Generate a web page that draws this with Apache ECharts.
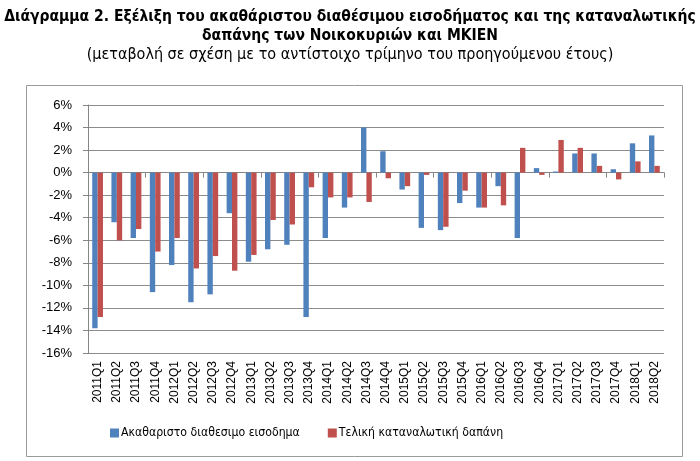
<!DOCTYPE html>
<html>
<head>
<meta charset="utf-8">
<script src="https://cdn.jsdelivr.net/npm/echarts@6/dist/echarts.min.js"></script>
<style>html,body{margin:0;padding:0;background:#fff}#c{width:700px;height:461px}</style>
</head>
<body>
<div id="c"></div>
<script>
const categories = ["2011Q1","2011Q2","2011Q3","2011Q4","2012Q1","2012Q2","2012Q3","2012Q4","2013Q1","2013Q2","2013Q3","2013Q4","2014Q1","2014Q2","2014Q3","2014Q4","2015Q1","2015Q2","2015Q3","2015Q4","2016Q1","2016Q2","2016Q3","2016Q4","2017Q1","2017Q2","2017Q3","2017Q4","2018Q1","2018Q2"];
const incomeValues = [-13.8,-4.4,-5.8,-10.6,-8.2,-11.5,-10.8,-3.6,-7.9,-6.8,-6.4,-12.8,-5.8,-3.1,4.0,1.9,-1.5,-4.9,-5.1,-2.7,-3.1,-1.2,-5.8,0.4,0.1,1.7,1.7,0.3,2.6,3.3];
const consumptionValues = [-12.8,-6.0,-5.0,-7.0,-5.8,-8.5,-7.4,-8.7,-7.3,-4.2,-4.6,-1.3,-2.2,-2.2,-2.6,-0.5,-1.2,-0.2,-4.8,-1.6,-3.1,-2.9,2.2,-0.2,2.9,2.2,0.6,-0.6,1.0,0.6];
const seriesNames = ["Ακαθαριστο διαθεσιμο εισοδημα","Τελική καταναλωτική δαπάνη"];
const titleLines = ["Διάγραμμα 2. Εξέλιξη του ακαθάριστου διαθέσιμου εισοδήματος και της καταναλωτικής","δαπάνης των Νοικοκυριών και ΜΚΙΕΝ"];
const subtitleText = "(μεταβολή σε σχέση με το αντίστοιχο τρίμηνο του προηγούμενου έτους)";

const FONT = "'Liberation Sans Narrow','DejaVu Sans Condensed','Noto Sans',sans-serif";
const AXFONT = "'Liberation Sans',Arial,sans-serif";
const chart = echarts.init(document.getElementById('c'), null, {renderer:'canvas'});
chart.setOption({
  animation:false,
  backgroundColor:'#fff',
  title:[
    {text:titleLines.join('\n'), left:'center', top:2, textStyle:{fontFamily:FONT, fontSize:15.5, fontWeight:'bold', color:'#000', lineHeight:19}},
    {text:subtitleText, left:'center', top:42, textStyle:{fontFamily:FONT, fontSize:16, fontWeight:'normal', color:'#000'}}
  ],
  graphic:[{type:'rect', shape:{x:26.5,y:85.5,width:656,height:371}, style:{fill:'none', stroke:'#9a9a9a', lineWidth:1}, z:-1}],
  legend:{top:422, left:105, itemWidth:9, itemHeight:9, itemGap:28, icon:'rect',
    textStyle:{fontFamily:FONT, fontSize:12.2, color:'#000', padding:[0,0,0,-3]}, data:seriesNames},
  grid:{left:88, right:36, top:105, bottom:108},
  xAxis:[
    {type:'category', data:categories, position:'bottom', axisLine:{show:false, onZero:false}, axisTick:{show:false},
     axisLabel:{rotate:90, interval:0, fontFamily:AXFONT, fontSize:12, color:'#000', margin:8}},
    {type:'category', data:categories, position:'bottom', axisLine:{show:true, onZero:true, lineStyle:{color:'#868686'}},
     axisTick:{show:true, length:5, lineStyle:{color:'#868686'}}, axisLabel:{show:false}}
  ],
  yAxis:{type:'value', min:-16, max:6, interval:2,
    axisLine:{show:true, lineStyle:{color:'#868686'}}, axisTick:{show:true, length:5, lineStyle:{color:'#868686'}},
    splitLine:{lineStyle:{color:'#8c8c8c'}},
    axisLabel:{formatter:'{value}%', fontFamily:AXFONT, fontSize:13, color:'#000', margin:16}},
  series:[
    {name:seriesNames[0], type:'bar', data:incomeValues, itemStyle:{color:'#4F81BD'}, barGap:'0%', barCategoryGap:'44%', xAxisIndex:0},
    {name:seriesNames[1], type:'bar', data:consumptionValues, itemStyle:{color:'#C0504D'}, barGap:'0%', barCategoryGap:'44%', xAxisIndex:0}
  ]
});
</script>
</body>
</html>
